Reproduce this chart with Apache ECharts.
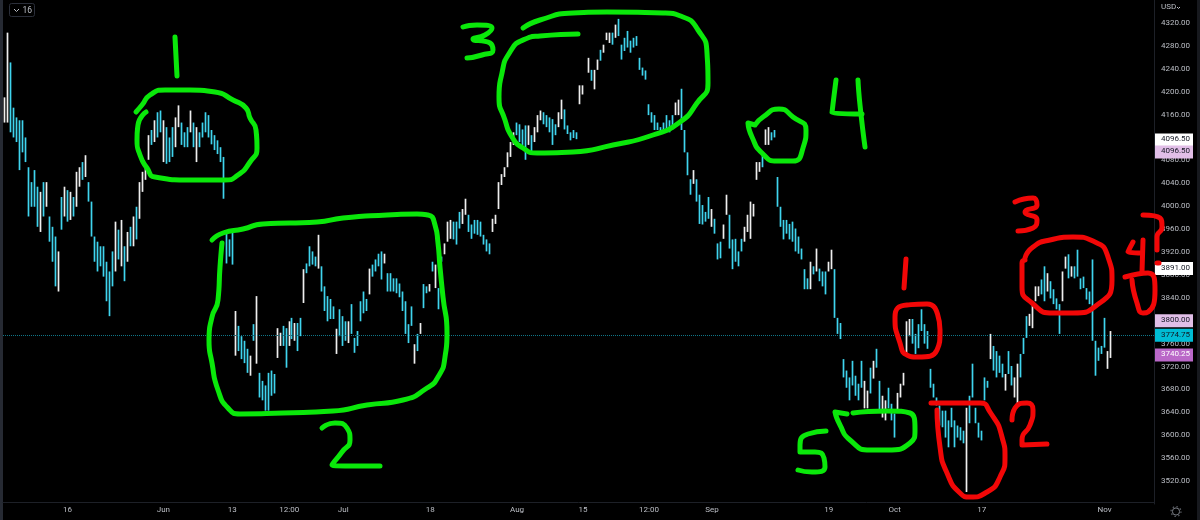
<!DOCTYPE html>
<html>
<head>
<meta charset="utf-8">
<style>html,body{margin:0;padding:0;background:#000}#c{width:1200px;height:520px}</style>
<script src="https://cdn.jsdelivr.net/npm/echarts@6/dist/echarts.min.js"></script>
</head>
<body>
<div id="c"></div>
<script>
const _ = null;
// Upper edge of each candle body, in USD
const bodyTops = [
4190,4303,4251,4172,4155,4150,4150,4120,4068,4042,
4063,4034,4025,4042,4042,3982,3964,3947,3921,4016,
4034,4028,4025,4016,4060,4068,4077,4089,4042,4008,
3947,3938,3930,3930,3903,3886,3921,3973,3959,3976,
3930,3955,3964,3982,3999,4042,4060,4068,4124,4133,
4150,4164,4167,4150,4138,4120,4138,4155,4176,4146,
4129,4138,4167,4146,4138,4129,4146,4164,4159,4133,
4124,4115,4103,4086,3955,3942,3959,3817,3791,3773,
3765,3751,3739,3794,3799,3709,3695,3687,3709,3713,
3707,3787,3779,3791,3787,3799,3805,3796,3796,3805,
3890,3900,3930,3921,3912,3950,3895,3860,3843,3838,
3825,3786,3820,3808,3799,3799,3829,3770,3782,3834,
3851,3838,3891,3898,3907,3917,3921,3917,3883,3883,
3874,3874,3865,3851,3834,3794,3825,3759,3777,3796,
3864,3860,3864,3903,3898,3857,3912,3935,3973,3976,
3973,3973,3990,3995,4013,3985,3968,3976,3976,3973,
3950,3942,3935,3978,3985,4042,4056,4068,4094,4112,
4129,4146,4143,4134,4141,4141,4124,4138,4159,4167,
4164,4159,4155,4152,4143,4164,4186,4169,4141,4129,
4133,4129,4211,4211,_,4259,4238,4238,4256,4273,
4282,4303,4303,4303,4317,4327,4282,4294,4306,4289,
4294,4297,4259,4242,4237,4178,4164,4159,4146,4138,
4146,4159,4150,4159,4181,4186,4190,4133,4094,4047,
4063,4047,4020,4002,3990,4016,3995,3978,3935,3938,
3968,4020,3985,3942,3943,3921,3943,3964,3985,4008,
4004,4077,4077,4094,4134,4138,4129,4133,4051,3999,
3976,3976,3969,3973,3961,3947,3926,3890,3874,3903,
3895,3926,3891,3886,3886,3903,3924,3890,3805,3796,
3733,3713,3701,3730,3704,3690,3730,3695,3678,3718,
3730,3751,3695,3669,3661,3683,3655,3638,3674,3690,
3709,3799,3803,3803,3777,3794,3820,3794,3782,3716,
3690,3666,3652,3643,3643,3626,3648,3626,3617,3614,
3608,3648,3669,3725,3648,3622,3608,3701,3695,3777,
3756,3747,3739,3725,3707,3747,3721,3701,3725,3742,
3770,3808,3812,3834,3860,3860,3872,3895,3883,3869,
3855,3839,3829,3886,3912,3916,3895,3895,3924,3874,
3877,3857,3851,3886,3765,3753,3756,3805,3747,3782];
// Lower edge of each candle body, in USD
const bodyBottoms = [
4146,4146,4129,4120,4112,4063,4094,4077,3982,3999,
3999,3964,3955,3982,3999,3938,3903,3860,3851,3959,
3982,3973,3976,3982,3999,4034,4046,4051,4008,3947,
3903,3886,3895,3877,3834,3808,3860,3886,3907,3895,
3869,3903,3930,3930,3942,3978,4025,4046,4081,4107,
4112,4120,4129,4077,4074,4077,4086,4103,4138,4107,
4103,4103,4129,4103,4077,4103,4120,4129,4120,4108,
4098,4091,4077,4013,3900,3912,3898,3739,3747,3733,
3726,3709,3704,3765,3756,3666,3661,3643,3643,3669,
3673,3735,3756,3756,3718,3756,3768,3765,3747,3773,
3831,3883,3895,3898,3895,3891,3851,3817,3799,3803,
3803,3742,3773,3756,3765,3761,3777,3744,3756,3799,
3813,3817,3846,3877,3886,3895,3872,3900,3851,3851,
3851,3848,3841,3817,3777,3761,3791,3725,3747,3777,
3822,3848,3851,3886,3857,3820,3903,3916,3938,3943,
3942,3933,3961,3969,3985,3955,3943,3952,3950,3947,
3933,3921,3916,3955,3969,3995,4037,4051,4068,4086,
4107,4124,4112,4107,4081,4107,4094,4112,4129,4150,
4143,4138,4129,4107,4124,4138,4152,4134,4126,4115,
4119,4117,4178,4195,_,4233,4219,4204,4238,4254,
4268,4290,4285,4282,4294,4297,4256,4271,4277,4268,
4277,4280,4238,4228,4221,4159,4146,4133,4133,4126,
4129,4133,4129,4134,4159,4159,4155,4094,4054,4020,
4039,4008,3969,3968,3973,3978,3964,3952,3907,3909,
3943,3985,3926,3890,3903,3895,3921,3938,3955,3943,
3982,4046,4060,4068,4107,4107,4115,4120,3999,3964,
3942,3952,3942,3938,3921,3917,3907,3855,3855,3855,
3881,3886,3869,3860,3846,3886,3890,3805,3777,3768,
3701,3683,3661,3687,3669,3661,3683,3647,3647,3673,
3699,3718,3643,3631,3626,3647,3626,3596,3643,3666,
3687,3744,3773,3760,3742,3752,3782,3760,3751,3683,
3666,3652,3617,3614,3596,3579,3614,3579,3596,3591,
3586,3591,3621,3666,3621,3596,3591,3661,3683,3733,
3713,3701,3709,3701,3678,3707,3687,3666,3655,3701,
3742,3770,3791,3787,3834,3843,3846,3834,3851,3839,
3829,3820,3808,3834,3891,3874,3877,3874,3877,3855,
3857,3837,3829,3799,3704,3730,3742,3753,3716,3735];
// 1 = candle closed up (white), 0 = closed down (cyan); ten candles per row
const closedUp = [
"1100000000","0010100010","1010110100","0000000101","0101011110",
"1001000110","0010100000","0000000100","0010100000","0110010100",
"1000010000","0100010000","0010000100","0000000101","0010100111",
"0001100000","0001111111","1000010111","0000011000","0011010110",
"1110100000","0000000000","0000110000","1000001000","1100000111",
"1110110000","0000000001","0100011000","0000000110","1001100011",
"1110000000","0000000000","0100000001","0000100110","0011110010",
"0001101000","0000000011"].join("");
// Wicks that reach beyond the body: candle index, low, high
const longWicks = [[84,3725,3843],[226,4133,4205],[321,3501,3648],[352,3777,3829],[363,3765,3907]];

const slotCount = 384;
const axisTicks = [[21,"16"],[53,"Jun"],[76,"13"],[95,"12:00"],[113,"Jul"],[142,"18"],[171,"Aug"],[193,"15"],[215,"12:00"],[236,"Sep"],[275,"19"],[297,"Oct"],[326,"17"],[367,"Nov"]];
const categories = Array.from({length: slotCount}, () => "");
axisTicks.forEach(t => { categories[t[0]] = t[1]; });

const lastPrice = 3774.75;
const tagPrices = [4096.5, 4096.5, 3891, 3800, 3774.75, 3740.25];
const tagShiftPx = [-11, 1, 0, 0, 0, 0];
const tagFills = ["#ffffff", "#e1bee7", "#ffffff", "#e1bee7", "#00bcd4", "#ba68c8"];
const tagInk = ["#131722", "#131722", "#131722", "#131722", "#131722", "#ffffff"];

// Freehand pen strokes over the chart, on a hidden sketch scale
const green = "#0ae80a", red = "#f20707";
const strokes = [
 [green,[[175,37],[177,76]]],
 [green,[[136,112],[142,105],[150,95],[165,90],[190,90],[215,92],[233,100],[246,108],[250,118],[256,130],[257,148],[250,162],[238,175],[225,180],[190,180],[155,177],[147,168],[140,155],[137,140],[138,125],[146,112]]],
 [green,[[212,240],[223,233],[243,229],[263,224],[317,222],[343,218],[387,215],[417,214],[428,215],[435,225],[438,243],[440,267],[443,297],[447,333],[445,357],[438,377],[427,388],[403,400],[367,405],[333,411],[283,413],[240,414],[228,408],[218,390],[212,363],[209,340],[212,317],[218,300],[220,267],[222,243]]],
 [green,[[322,428],[335,423],[347,428],[350,440],[342,452],[332,465],[345,466],[380,466]]],
 [green,[[463,27],[477,25],[492,28],[485,35],[473,39],[490,43],[493,50],[482,55],[467,58]]],
 [green,[[578,34],[540,36],[523,40],[510,52],[502,73],[499,97],[505,120],[512,137],[523,148],[537,153],[573,152],[613,145],[653,135],[680,122],[697,103],[708,83],[707,53],[698,30],[683,17],[663,13],[607,12],[573,13],[540,20],[523,28]]],
 [green,[[755,125],[748,123],[752,137],[762,153],[777,161],[793,161],[803,148],[806,130],[793,117],[779,109],[763,117],[755,125]]],
 [green,[[836,80],[832,113],[862,114]]],
 [green,[[858,80],[860,105],[865,147]]],
 [green,[[826,431],[808,434],[800,445],[800,452],[815,452],[824,458],[825,467],[812,472],[798,470]]],
 [green,[[847,414],[835,412],[840,425],[850,440],[870,450],[887,450],[910,443],[915,430],[910,413],[887,411],[853,413]]],
 [red,[[906,259],[904,288]]],
 [red,[[935,308],[927,304],[907,305],[895,317],[900,343],[907,355],[917,357],[937,350],[940,330],[935,308]]],
 [red,[[931,403],[980,403],[990,412],[1002,437],[1005,457],[1000,477],[987,492],[970,497],[960,493],[947,473],[940,447],[937,410]]],
 [red,[[1012,420],[1015,408],[1027,403],[1033,410],[1030,425],[1022,440],[1022,445],[1047,444]]],
 [red,[[1015,202],[1033,198],[1037,205],[1025,212],[1037,220],[1033,228],[1018,231]]],
 [red,[[1025,260],[1022,263],[1022,287],[1032,303],[1053,313],[1073,313],[1097,305],[1112,280],[1108,257],[1095,242],[1073,237],[1050,240],[1033,247],[1025,258]]],
 [red,[[1133,242],[1128,252],[1142,253]]],
 [red,[[1143,240],[1142,272]]],
 [red,[[1125,277],[1148,273],[1155,290],[1148,312],[1143,313],[1137,303],[1132,280]]],
 [red,[[1143,215],[1160,218],[1162,227],[1157,237],[1157,250]]],
 [red,[[1157,263],[1159,263]]]
];

const candles = bodyTops.map((top, i) => {
  const bottom = bodyBottoms[i];
  if (top === null) return ["-", "-", "-", "-"];
  const up = closedUp[i] === "1";
  const wick = longWicks.find(w => w[0] === i);
  return [up ? bottom : top, up ? top : bottom,
          wick ? wick[1] : bottom, wick ? wick[2] : top];
});

const axisInk = "#bcbfc6";
const fontName = "Roboto, 'Open Sans', sans-serif";
const chart = echarts.init(document.getElementById("c"), null, {renderer: "canvas"});
chart.setOption({
  animation: false,
  backgroundColor: "#000000",
  grid: [
    {left: 3, right: 46, top: -3, height: 507, containLabel: false},
    {left: 0, top: 0, width: 1200, height: 520, containLabel: false}
  ],
  xAxis: [
    {type: "category", data: categories, gridIndex: 0, offset: -2, boundaryGap: true,
     axisTick: {show: false}, splitLine: {show: false},
     axisLine: {show: true, onZero: false, lineStyle: {color: "#1d2027", width: 1}},
     axisLabel: {interval: 0, color: axisInk, fontSize: 8, fontFamily: fontName, margin: 4, hideOverlap: false}},
    {type: "value", min: 0, max: 1200, gridIndex: 1, show: false}
  ],
  yAxis: [
    {type: "value", position: "right", min: 3480, max: 4360, interval: 40, gridIndex: 0,
     scale: true, splitLine: {show: false}, axisTick: {show: false},
     axisLine: {show: true, onZero: false, lineStyle: {color: "#1d2027", width: 1}},
     axisLabel: {color: axisInk, fontSize: 8, fontFamily: fontName, margin: 7,
       formatter: v => (v < 3500 || v > 4340) ? "" : v.toFixed(2)}},
    {type: "value", min: 0, max: 520, inverse: true, gridIndex: 1, show: false}
  ],
  graphic: [
    {type: "rect", z: 0, silent: true, shape: {x: 0, y: 0, width: 3, height: 520}, style: {fill: "#262a33"}},
    {type: "rect", z: 0, silent: true, shape: {x: 1197, y: 0, width: 3, height: 520}, style: {fill: "#17191e"}},
    {type: "rect", z: 5, silent: true, shape: {x: 9.5, y: 3.5, width: 25, height: 13, r: 2}, style: {fill: "#000", stroke: "#2a2e39", lineWidth: 1}},
    {type: "polyline", z: 6, silent: true, shape: {points: [[14, 9], [16.5, 11.5], [19, 9]]}, style: {stroke: "#bcbfc6", lineWidth: 1, fill: null}},
    {type: "text", z: 6, silent: true, x: 22.5, y: 6, style: {text: "16", fill: "#bcbfc6", font: "8.5px " + fontName}},
    {type: "text", z: 6, silent: true, x: 1161, y: 3, style: {text: "USD", fill: "#bcbfc6", font: "8px " + fontName}},
    {type: "polyline", z: 6, silent: true, shape: {points: [[1177, 7], [1178.5, 8.5], [1180, 7]]}, style: {stroke: "#bcbfc6", lineWidth: 1, fill: null}},
    {type: "circle", z: 6, silent: true, shape: {cx: 1176, cy: 511.5, r: 3.6}, style: {fill: null, stroke: "#7d8088", lineWidth: 1}},
    {type: "circle", z: 6, silent: true, shape: {cx: 1176, cy: 511.5, r: 5}, style: {fill: null, stroke: "#5f6269", lineWidth: 1.2, lineDash: [1.5, 2.4]}}
  ],
  series: [
    {type: "candlestick", xAxisIndex: 0, yAxisIndex: 0, barWidth: 1, z: 2, data: candles,
     itemStyle: {color: "#f4f4f4", color0: "#a6eefa", borderColor: "#eeeeee", borderColor0: "#3fd4ee", borderWidth: 1.7},
     markLine: {silent: true, symbol: "none", animation: false, label: {show: false},
       lineStyle: {type: "dotted", color: "#0f7688", width: 1}, data: [{yAxis: lastPrice}]}},
    {type: "custom", xAxisIndex: 0, yAxisIndex: 0, z: 4, clip: false, silent: true,
     data: tagPrices.map((p, i) => [0, p, i]),
     encode: {x: 0, y: 1},
     renderItem: (params, api) => {
       const i = api.value(2);
       const y = api.coord([0, api.value(1)])[1] + tagShiftPx[i];
       const x = params.coordSys.x + params.coordSys.width + 1;
       return {type: "group", children: [
         {type: "rect", shape: {x: x, y: y - 6.5, width: 38, height: 13}, style: {fill: tagFills[i]}},
         {type: "text", x: x + 6, y: y - 4.5, style: {text: api.value(1).toFixed(2), fill: tagInk[i], font: "8px " + fontName}}
       ]};
     }},
    ...strokes.map(s => ({
      type: "line", xAxisIndex: 1, yAxisIndex: 1, z: 6, silent: true,
      showSymbol: false, smooth: 0.6, data: s[1],
      lineStyle: {color: s[0], width: 5, cap: "round", join: "round"}
    }))
  ]
});
</script>
</body>
</html>
